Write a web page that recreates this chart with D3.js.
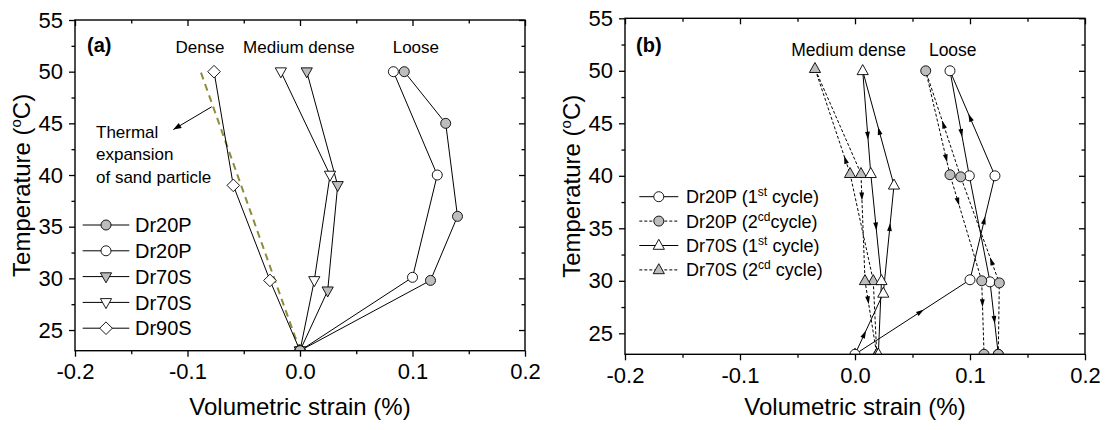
<!DOCTYPE html>
<html>
<head>
<meta charset="utf-8">
<script src="https://cdn.jsdelivr.net/npm/d3@7"></script>
<style>
  body { margin: 0; background: #fff; }
  text { font-family: "Liberation Sans", Arial, sans-serif; fill: #000; }
</style>
</head>
<body>
<script>
// ---------- data ----------
// panel (a): temperature (C) vs volumetric strain (%)
var tA_20P_2 = [50, 45, 36, 29.8, 23];
var sA_20P_2 = [0.0927, 0.1295, 0.140, 0.116, 0];
var tA_20P_1 = [50, 40, 30.1, 23];
var sA_20P_1 = [0.083, 0.122, 0.100, 0];
var tA_70S_2 = [50, 39, 28.8, 23];
var sA_70S_2 = [0.006, 0.0335, 0.0246, 0];
var tA_70S_1 = [50, 40, 29.8, 23];
var sA_70S_1 = [-0.017, 0.0267, 0.0127, 0];
var tA_90S = [50, 39, 29.8, 23];
var sA_90S = [-0.0764, -0.0593, -0.0267, 0];
// thermal expansion of sand particle (dashed line)
var tA_thermal = [49.9, 23];
var sA_thermal = [-0.088, 0];
var legendA = ["Dr20P", "Dr20P", "Dr70S", "Dr70S", "Dr90S"];

// panel (b): heating then cooling, 1st and 2nd cycle
var tB_20P_1 = [23, 30.1, 40, 50, 40, 29.9, 23];
var sB_20P_1 = [0, 0.100, 0.1217, 0.0826, 0.0994, 0.1174, 0.1246];
var tB_20P_2 = [23, 29.8, 39.9, 50, 40.1, 30, 23];
var sB_20P_2 = [0.1246, 0.1255, 0.0919, 0.0615, 0.0826, 0.1102, 0.1122];
var tB_70S_1 = [23, 28.8, 39.1, 50, 40.2, 30, 23];
var sB_70S_1 = [0, 0.0246, 0.0339, 0.0067, 0.0137, 0.023, 0.0203];
var tB_70S_2 = [23, 30, 40.2, 50.2, 40.2, 30, 23];
var sB_70S_2 = [0.0189, 0.0159, -0.0043, -0.0348, 0.0052, 0.0087, 0.0189];
// arrow heads: [segment index, fraction along segment]
var arrB_20P_1 = [[0, 0.6], [1, 0.61], [2, 0.59], [3, 0.63], [5, 0.58]];
var arrB_20P_2 = [[1, 0.24], [2, 0.53], [3, 0.88], [4, 0.29], [5, 0.36]];
var arrB_70S_1 = [[0, 0.39], [1, 0.65], [2, 0.51], [3, 0.67], [4, 0.53]];
var arrB_70S_2 = [[2, 0.17], [4, 0.25], [5, 0.32]];
var legendB = [["Dr20P (1", "st", " cycle)"], ["Dr20P (2", "cd", "cycle)"],
               ["Dr70S (1", "st", " cycle)"], ["Dr70S (2", "cd", " cycle)"]];

// axes
var xTicks = [-0.2, -0.1, 0, 0.1, 0.2];
var xMinor = [-0.15, -0.05, 0.05, 0.15];
var yTicks = [25, 30, 35, 40, 45, 50, 55];
var yMinor = [27.5, 32.5, 37.5, 42.5, 47.5, 52.5];

var GRAY = "#bdbdbd";
var OLIVE = "#8c8c3a";

var svg = d3.select("body").append("svg")
    .attr("width", 1109)
    .attr("height", 430);

function zip(s, t) { return s.map(function(v, i) { return [v, t[i]]; }); }

function markerPath(type) {
  if (type === "circle") return d3.symbol().type(d3.symbolCircle).size(Math.PI * 25)();
  if (type === "up") return "M0,-6.2L5.6,3.8L-5.6,3.8Z";
  if (type === "down") return "M0,6.2L5.6,-3.8L-5.6,-3.8Z";
  return "M0,-6.3L6.3,0L0,6.3L-6.3,0Z"; // diamond
}

function drawAxes(g, x, y, label, labelX, labelY, yTitleX) {
  var x0 = x.range()[0], x1 = x.range()[1], y0 = y.range()[0], y1 = y.range()[1];
  var fmt = function(d) { return d.toFixed(1); };

  g.append("g").attr("transform", "translate(0," + y0 + ")")
    .call(d3.axisBottom(x).tickValues(xTicks).tickFormat(fmt).tickSize(6).tickPadding(7));
  g.append("g").attr("transform", "translate(0," + y0 + ")")
    .call(d3.axisBottom(x).tickValues(xMinor).tickFormat("").tickSize(3.5));
  g.append("g").attr("transform", "translate(0," + y1 + ")")
    .call(d3.axisTop(x).tickValues(xTicks).tickFormat("").tickSize(-6));
  g.append("g").attr("transform", "translate(0," + y1 + ")")
    .call(d3.axisTop(x).tickValues(xMinor).tickFormat("").tickSize(-3.5));

  g.append("g").attr("transform", "translate(" + x0 + ",0)")
    .call(d3.axisLeft(y).tickValues(yTicks).tickSize(6).tickPadding(6));
  g.append("g").attr("transform", "translate(" + x0 + ",0)")
    .call(d3.axisLeft(y).tickValues(yMinor).tickFormat("").tickSize(3.5));
  g.append("g").attr("transform", "translate(" + x1 + ",0)")
    .call(d3.axisRight(y).tickValues(yTicks).tickFormat("").tickSize(-6));
  g.append("g").attr("transform", "translate(" + x1 + ",0)")
    .call(d3.axisRight(y).tickValues(yMinor).tickFormat("").tickSize(-3.5));

  g.selectAll(".domain").remove();
  g.selectAll(".tick line").attr("stroke", "#000").attr("stroke-width", 1.3);
  g.selectAll(".tick text")
    .style("font-family", "'Liberation Sans', Arial, sans-serif")
    .style("font-size", "22px").attr("fill", "#000");

  g.append("rect")
    .attr("x", x0).attr("y", y1)
    .attr("width", x1 - x0).attr("height", y0 - y1)
    .attr("fill", "none").attr("stroke", "#000").attr("stroke-width", 1.4);

  g.append("text")
    .attr("x", (x0 + x1) / 2).attr("y", 415)
    .attr("text-anchor", "middle").style("font-size", "24px")
    .text("Volumetric strain (%)");

  var yt = g.append("text")
    .attr("transform", "translate(" + yTitleX + "," + ((y0 + y1) / 2) + ") rotate(-90)")
    .attr("text-anchor", "middle").style("font-size", "24px");
  yt.append("tspan").text("Temperature (");
  yt.append("tspan").attr("dy", -9).style("font-size", "15px").text("o");
  yt.append("tspan").attr("dy", 9).text("C)");

  g.append("text")
    .attr("x", labelX).attr("y", labelY)
    .style("font-size", "20px").style("font-weight", "bold")
    .text(label);
}

function clipFor(id, x, y) {
  svg.append("clipPath").attr("id", id)
    .append("rect")
    .attr("x", x.range()[0]).attr("y", y.range()[1])
    .attr("width", x.range()[1] - x.range()[0])
    .attr("height", y.range()[0] - y.range()[1]);
}

function drawSeries(g, x, y, list) {
  var line = d3.line().x(function(d) { return x(d[0]); }).y(function(d) { return y(d[1]); });
  list.forEach(function(s) {
    g.append("path")
      .attr("d", line(s.pts))
      .attr("fill", "none")
      .attr("stroke", s.color || "#000")
      .attr("stroke-width", s.width || 1)
      .attr("stroke-dasharray", s.dash || null);
  });
  list.forEach(function(s) {
    (s.arrows || []).forEach(function(a) {
      var p0 = s.pts[a[0]], p1 = s.pts[a[0] + 1];
      var ax = x(p0[0]) + a[1] * (x(p1[0]) - x(p0[0]));
      var ay = y(p0[1]) + a[1] * (y(p1[1]) - y(p0[1]));
      var ang = Math.atan2(y(p1[1]) - y(p0[1]), x(p1[0]) - x(p0[0])) * 180 / Math.PI;
      g.append("path")
        .attr("d", "M0,0L-8,-2.4L-8,2.4Z")
        .attr("fill", "#000")
        .attr("transform", "translate(" + ax + "," + ay + ") rotate(" + ang + ")");
    });
  });
  list.forEach(function(s) {
    if (!s.marker) return;
    g.selectAll(null)
      .data(s.pts)
      .enter()
      .append("path")
      .attr("d", markerPath(s.marker))
      .attr("transform", function(d) { return "translate(" + x(d[0]) + "," + y(d[1]) + ")"; })
      .attr("fill", s.fill)
      .attr("stroke", "#000")
      .attr("stroke-width", 0.9);
  });
}

function drawLegend(g, items, lx0, lx1, tx, rows, fontSize) {
  items.forEach(function(it, i) {
    var yy = rows[0] + i * rows[1];
    g.append("line")
      .attr("x1", lx0).attr("x2", lx1).attr("y1", yy).attr("y2", yy)
      .attr("stroke", "#000").attr("stroke-width", 1)
      .attr("stroke-dasharray", it.dash || null);
    g.append("path")
      .attr("d", markerPath(it.marker))
      .attr("transform", "translate(" + ((lx0 + lx1) / 2) + "," + yy + ")")
      .attr("fill", it.fill).attr("stroke", "#000").attr("stroke-width", 0.9);
    var t = g.append("text")
      .attr("x", tx).attr("y", yy + fontSize * 0.36)
      .style("font-size", fontSize + "px");
    if (typeof it.label === "string") {
      t.text(it.label);
    } else {
      t.append("tspan").text(it.label[0]);
      t.append("tspan").attr("dy", -7).style("font-size", "12px").text(it.label[1]);
      t.append("tspan").attr("dy", 7).text(it.label[2]);
    }
  });
}

// ---------- panel (a) ----------
var xA = d3.scaleLinear().domain([-0.2, 0.2]).range([75, 525]);
var yA = d3.scaleLinear().domain([23, 55]).range([350.7, 20]);
clipFor("clipA", xA, yA);
var gA = svg.append("g");
var plotA = gA.append("g").attr("clip-path", "url(#clipA)");

var seriesA = [
  { pts: zip(sA_thermal, tA_thermal), color: OLIVE, width: 2, dash: "7,5" },
  { pts: zip(sA_90S, tA_90S), marker: "diamond", fill: "#fff" },
  { pts: zip(sA_70S_1, tA_70S_1), marker: "down", fill: "#fff" },
  { pts: zip(sA_70S_2, tA_70S_2), marker: "down", fill: GRAY },
  { pts: zip(sA_20P_1, tA_20P_1), marker: "circle", fill: "#fff" },
  { pts: zip(sA_20P_2, tA_20P_2), marker: "circle", fill: GRAY }
];
drawSeries(plotA, xA, yA, seriesA);

// annotation arrow: thermal expansion
var arrFrom = [-0.0785, 46.6], arrTo = [-0.1126, 44.4];
plotA.append("line")
  .attr("x1", xA(arrFrom[0])).attr("y1", yA(arrFrom[1]))
  .attr("x2", xA(arrTo[0])).attr("y2", yA(arrTo[1]))
  .attr("stroke", "#000").attr("stroke-width", 1);
var angA = Math.atan2(yA(arrTo[1]) - yA(arrFrom[1]), xA(arrTo[0]) - xA(arrFrom[0])) * 180 / Math.PI;
plotA.append("path")
  .attr("d", "M0,0L-8,-3L-8,3Z").attr("fill", "#000")
  .attr("transform", "translate(" + xA(arrTo[0]) + "," + yA(arrTo[1]) + ") rotate(" + angA + ")");

["Thermal", "expansion", "of sand particle"].forEach(function(s, i) {
  gA.append("text").attr("x", 96).attr("y", 138 + i * 22.3)
    .style("font-size", "17px").text(s);
});
[["Dense", -0.0889], ["Medium dense", -0.001], ["Loose", 0.103]].forEach(function(d) {
  gA.append("text").attr("x", xA(d[1])).attr("y", 52.7)
    .attr("text-anchor", "middle").style("font-size", "17px").text(d[0]);
});

drawAxes(gA, xA, yA, "(a)", 87, 52.3, 30);
drawLegend(gA, [
  { label: legendA[0], marker: "circle", fill: GRAY },
  { label: legendA[1], marker: "circle", fill: "#fff" },
  { label: legendA[2], marker: "down", fill: GRAY },
  { label: legendA[3], marker: "down", fill: "#fff" },
  { label: legendA[4], marker: "diamond", fill: "#fff" }
], 82.7, 129.3, 135, [225, 25.8], 20);

// ---------- panel (b) ----------
var xB = d3.scaleLinear().domain([-0.2, 0.2]).range([625, 1085]);
var yB = d3.scaleLinear().domain([23, 55]).range([354.3, 18.3]);
clipFor("clipB", xB, yB);
var gB = svg.append("g");
var plotB = gB.append("g").attr("clip-path", "url(#clipB)");

var seriesB = [
  { pts: zip(sB_70S_2, tB_70S_2), marker: "up", fill: GRAY, dash: "3,2", arrows: arrB_70S_2 },
  { pts: zip(sB_70S_1, tB_70S_1), marker: "up", fill: "#fff", arrows: arrB_70S_1 },
  { pts: zip(sB_20P_1, tB_20P_1), marker: "circle", fill: "#fff", arrows: arrB_20P_1 },
  { pts: zip(sB_20P_2, tB_20P_2), marker: "circle", fill: GRAY, dash: "3,2", arrows: arrB_20P_2 }
];
drawSeries(plotB, xB, yB, seriesB);

[["Medium dense", -0.0055], ["Loose", 0.085]].forEach(function(d) {
  gB.append("text").attr("x", xB(d[1])).attr("y", 56)
    .attr("text-anchor", "middle").style("font-size", "17.5px").text(d[0]);
});

drawAxes(gB, xB, yB, "(b)", 636, 51.7, 580);
drawLegend(gB, [
  { label: legendB[0], marker: "circle", fill: "#fff" },
  { label: legendB[1], marker: "circle", fill: GRAY, dash: "3,2" },
  { label: legendB[2], marker: "up", fill: "#fff" },
  { label: legendB[3], marker: "up", fill: GRAY, dash: "3,2" }
], 639.3, 678.3, 686, [196.7, 24.4], 18);
</script>
</body>
</html>
